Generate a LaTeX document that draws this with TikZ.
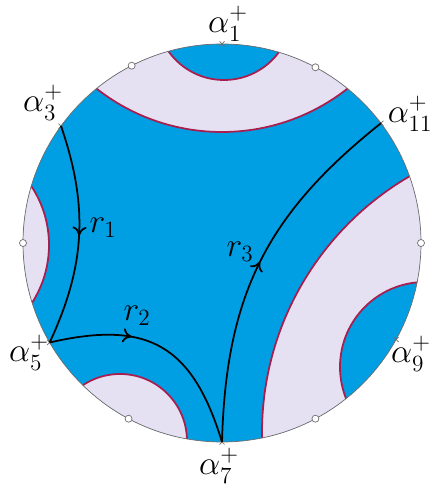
\documentclass[tikz,border=0pt]{standalone}
\usepackage{amsmath}
\usepackage{xcolor}
\usetikzlibrary{arrows.meta,decorations.markings}

\definecolor{discblue}{RGB}{0,159,227}
\definecolor{regionlav}{RGB}{229,224,242}
\definecolor{wallred}{RGB}{168,30,78}
\definecolor{rimgray}{RGB}{110,110,110}

\tikzset{
	wall/.style={draw=wallred, line width=1pt},
	rim/.style={draw=rimgray, line width=0.4pt},
	ray/.style={line width=1pt, decoration={markings,
		mark=at position #1 with {\arrow{Computer Modern Rightarrow[length=5pt,width=8pt]}}},
		postaction={decorate}},
	lbl/.style={inner sep=0pt, font=\huge, scale=0.92},
}

\begin{document}
\begin{tikzpicture}[x=0.02cm, y=0.02cm]
	\useasboundingbox (-222,-246) rectangle (210,243);
	
	% shaded pieces of the disc
	\begin{scope}
		\clip (0,0) circle (199);
		\fill[discblue] (0,0) circle (199);
		\filldraw[wall, fill=regionlav] (0,314) circle (203);
		\filldraw[wall, fill=discblue] (2,231) circle (68);
		\filldraw[wall, fill=regionlav] (-280,-2) circle (107);
		\filldraw[wall, fill=regionlav] (-102,-198) circle (67);
		\filldraw[wall, fill=regionlav] (337,-190) circle (297);
		\filldraw[wall, fill=discblue] (203,-124) circle (85);
	\end{scope}
	\draw[rim] (0,0) circle (199);
	
	\coordinate (a1) at (90:199);
	\coordinate (a3) at (144:199);
	\coordinate (a5) at (210:199);
	\coordinate (a7) at (270:199);
	\coordinate (a9) at (331:199);
	\coordinate (a11) at (37:199);
	
	\foreach \p in {a1,a3,a5,a7,a9,a11}
		\draw[rim] (\p) +(-2.5,-2.5) -- +(2.5,2.5) +(-2.5,2.5) -- +(2.5,-2.5);
	\foreach \t in {0,62,117,180,242,298}
		\draw[rim, fill=white] (\t:199) circle (3.5);
	
	\draw[ray=0.5] (a3) to[bend left=22] (a5);
	\draw[ray=0.36] (a5) to[bend left=43, looseness=1.3] (a7);
	\draw[ray=0.5] (a7) to[bend left=25, looseness=1.05] (a11);
	
	\node[lbl] (r1) at (-119,15) {$r_1$};
	\node[lbl] (r2) at (-85,-73) {$r_2$};
	\node[lbl] (r3) at (18,-9) {$r_3$};
	
	\node[lbl] (l1) at (6,219) {$\alpha_1^+$};
	\node[lbl] (l3) at (-179,140) {$\alpha_3^+$};
	\node[lbl] (l5) at (-193,-110) {$\alpha_5^+$};
	\node[lbl] (l7) at (-3,-223) {$\alpha_7^+$};
	\node[lbl] (l9) at (189,-111) {$\alpha_9^+$};
	\node[lbl] (l11) at (188,129) {$\alpha_{11}^+$};
\end{tikzpicture}
\end{document}
